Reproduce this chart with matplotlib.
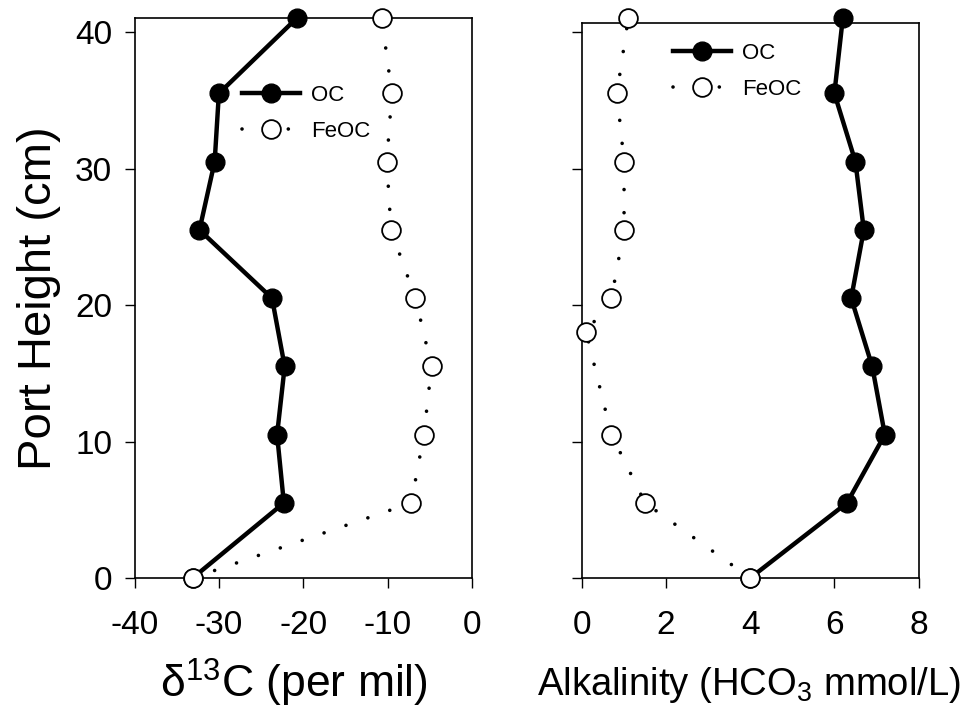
import matplotlib
matplotlib.use("Agg")
import matplotlib.pyplot as plt

plt.rcParams["font.family"] = ["Liberation Sans", "DejaVu Sans"]
plt.rcParams["mathtext.fontset"] = "custom"
plt.rcParams["mathtext.rm"] = "Liberation Sans"
plt.rcParams["mathtext.it"] = "Liberation Sans:italic"
plt.rcParams["axes.unicode_minus"] = False

# port heights (cm)
height = [0, 5.5, 10.5, 15.5, 20.5, 25.5, 30.5, 35.5, 41]
height_feoc_alk = [0, 5.5, 10.5, 18, 20.5, 25.5, 30.5, 35.5, 41]

# delta 13C (per mil)
d13c_oc = [-33.1, -22.3, -23.1, -22.2, -23.7, -32.3, -30.5, -30.0, -20.8]
d13c_feoc = [-33.1, -7.2, -5.7, -4.8, -6.7, -9.6, -10.1, -9.5, -10.7]

# alkalinity (HCO3 mmol/L)
alk_oc = [4.0, 6.3, 7.2, 6.9, 6.4, 6.7, 6.5, 6.0, 6.2]
alk_feoc = [4.0, 1.5, 0.7, 0.1, 0.7, 1.0, 1.0, 0.83, 1.1]

oc_style = dict(color="black", lw=3.2, marker="o", markersize=13.5,
                markerfacecolor="black", markeredgecolor="black",
                clip_on=False, zorder=3)
feoc_style = dict(color="black", lw=2.6, linestyle=(0, (0.01, 6.4)),
                  dash_capstyle="round", marker="o", markersize=13.5,
                  markerfacecolor="white", markeredgecolor="black",
                  markeredgewidth=1.3, clip_on=False, zorder=4)

fig = plt.figure(figsize=(9.68, 7.2), dpi=100)
ax1 = fig.add_axes([134.5 / 968, 142 / 720, 337.5 / 968, 560 / 720])
ax2 = fig.add_axes([582 / 968, 142 / 720, 336.5 / 968, 555 / 720])

ax1.plot(d13c_oc, height, label="OC", **oc_style)
ax1.plot(d13c_feoc, height, label="FeOC", **feoc_style)
ax1.set_xlim(-40, 0)
ax1.set_ylim(0, 41.03)
ax1.set_xticks([-40, -30, -20, -10, 0])
ax1.set_yticks([0, 10, 20, 30, 40])
ax1.set_xlabel("δ$^{13}$C (per mil)", fontsize=32, va="baseline")
ax1.xaxis.set_label_coords(0.473, (578 - 698) / 560)
ax1.set_ylabel("Port Height (cm)", fontsize=34, labelpad=10)

ax2.plot(alk_oc, height, label="OC", **oc_style)
ax2.plot(alk_feoc, height_feoc_alk, label="FeOC", **feoc_style)
ax2.set_xlim(0, 8)
ax2.set_ylim(0, 40.66)
ax2.set_xticks([0, 2, 4, 6, 8])
ax2.set_yticks([0, 10, 20, 30, 40])
ax2.set_yticklabels([])
ax2.set_xlabel("Alkalinity (HCO$_3$ mmol/L)", fontsize=27.5, va="baseline")
ax2.xaxis.set_label_coords(0.495, (578 - 695) / 555)

for ax in (ax1, ax2):
    ax.tick_params(direction="out", length=7, width=1, labelsize=24)
    ax.tick_params(axis="x", pad=16)
    ax.tick_params(axis="y", pad=9)
    for sp in ax.spines.values():
        sp.set_linewidth(1.2)

leg_kw = dict(loc="upper left", frameon=False, fontsize=16, borderpad=0,
              borderaxespad=0, handlelength=2.6, handletextpad=0.5,
              labelspacing=0.68, bbox_transform=fig.transFigure)
ax1.legend(bbox_to_anchor=(242 / 968, 1 - 85 / 720), **leg_kw)
ax2.legend(bbox_to_anchor=(673 / 968, 1 - 43 / 720), **leg_kw)

fig.savefig("out.png", dpi=100)
